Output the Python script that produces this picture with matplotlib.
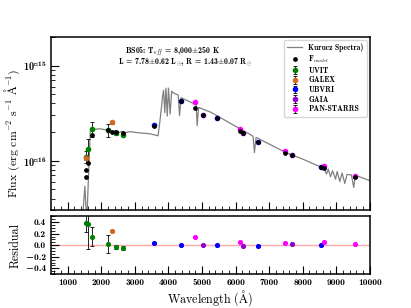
import numpy as np
import matplotlib.pyplot as plt
from matplotlib.ticker import MultipleLocator, FixedLocator

plt.rcParams['font.family'] = ['cmb10', 'DejaVu Serif']
plt.rcParams['mathtext.fontset'] = 'cm'
label_font = ['cmr10', 'DejaVu Serif']

# Kurucz model spectrum
spec_wave = [1420, 1510, 1565, 1670, 1717, 1800, 1963, 2100, 2250, 2350, 2400, 2458,
             2550, 2600, 2700, 2852, 3100, 3445, 3690, 3741, 3791, 3820, 3855, 3890,
             3925, 3965, 4000, 4050, 4095, 4135, 4236, 4290, 4330, 4375, 4778, 4825,
             4855, 4896, 5273, 5900, 6408, 6520, 6560, 6610, 7495, 8000, 8532, 8630,
             8709, 8758, 8828, 8887, 8976, 9024, 9104, 9173, 9252, 9321, 9450, 9519,
             9569, 10014]
spec_flux = [2.0e-17, 5.4e-17, 2.2e-17, 2.05e-16, 2.18e-16, 2.14e-16, 2.17e-16, 2.12e-16,
             2.10e-16, 2.02e-16, 2.08e-16, 2.05e-16, 1.98e-16, 2.04e-16, 1.97e-16, 2.02e-16,
             1.97e-16, 1.92e-16, 1.83e-16, 2.53e-16, 3.64e-16, 4.6e-16, 5.5e-16, 3.2e-16,
             5.8e-16, 2.95e-16, 5.8e-16, 3.1e-16, 5.4e-16, 5.2e-16, 5.0e-16, 4.9e-16,
             2.98e-16, 4.6e-16, 3.95e-16, 3.88e-16, 2.34e-16, 3.64e-16, 3.22e-16, 2.41e-16,
             1.91e-16, 1.81e-16, 1.22e-16, 1.76e-16, 1.22e-16, 1.04e-16, 8.6e-17, 8.37e-17,
             7.24e-17, 8.18e-17, 6.79e-17, 7.85e-17, 6.41e-17, 7.71e-17, 6.05e-17, 7.43e-17,
             5.77e-17, 7.2e-17, 7.08e-17, 5.24e-17, 7.03e-17, 6.15e-17]

# model fluxes at the filter wavelengths
model_wave = [1539, 1541, 1608, 1717, 2196, 2316, 2447, 2632, 3563, 4363, 4800,
              5035, 5450, 6132, 6209, 6674, 7474, 7691, 8532, 8630, 9569]
model_flux = [6.7e-17, 8.0e-17, 9.5e-17, 1.87e-16, 2.08e-16, 2.0e-16, 1.99e-16, 1.96e-16,
              2.30e-16, 4.28e-16, 3.6e-16, 3.0e-16, 2.79e-16, 2.05e-16, 1.98e-16, 1.58e-16,
              1.21e-16, 1.14e-16, 8.65e-17, 8.4e-17, 6.74e-17]

# observed photometry
uvit_wave = [1541, 1608, 1717, 2196, 2447, 2632]
uvit_flux = [1.10e-16, 1.33e-16, 2.16e-16, 2.12e-16, 1.94e-16, 1.88e-16]
uvit_ferr = [1.6e-17, 3.6e-17, 3.7e-17, 3.4e-17, 6e-18, 6e-18]
uvit_res = [0.38, 0.36, 0.15, 0.02, -0.03, -0.05]
uvit_rerr = [0.15, 0.42, 0.17, 0.16, 0.03, 0.03]

galex_wave = [1539, 2316]
galex_flux = [1.07e-16, 2.53e-16]
galex_ferr = [6e-18, 8e-18]
galex_res = [np.nan, 0.24]
galex_rerr = [np.nan, 0.02]

ubvri_wave = [3563, 4363, 5450, 6674, 8532]
ubvri_flux = [2.39e-16, 4.28e-16, 2.79e-16, 1.56e-16, 8.65e-17]
ubvri_ferr = [5e-18, 8e-18, 5e-18, 3e-18, 2e-18]
ubvri_res = [0.04, 0.0, 0.0, -0.01, 0.0]
ubvri_rerr = [0.02, 0.02, 0.02, 0.02, 0.02]

gaia_wave = [5035, 6209, 7691]
gaia_flux = [3.03e-16, 1.94e-16, 1.16e-16]
gaia_ferr = [4e-18, 3e-18, 2e-18]
gaia_res = [0.01, -0.02, 0.02]
gaia_rerr = [0.01, 0.01, 0.01]

ps_wave = [4800, 6132, 7474, 8630, 9569]
ps_flux = [4.18e-16, 2.16e-16, 1.27e-16, 8.86e-17, 6.84e-17]
ps_ferr = [6e-18, 4e-18, 2e-18, 2e-18, 2e-18]
ps_res = [0.14, 0.05, 0.045, 0.05, 0.015]
ps_rerr = [0.01, 0.01, 0.01, 0.01, 0.01]

res_ticks = [-0.4, -0.2, 0.0, 0.2, 0.4]

surveys = [
    ('UVIT', 'green', uvit_wave, uvit_flux, uvit_ferr, uvit_res, uvit_rerr),
    ('GALEX', 'chocolate', galex_wave, galex_flux, galex_ferr, galex_res, galex_rerr),
    ('UBVRI', 'blue', ubvri_wave, ubvri_flux, ubvri_ferr, ubvri_res, ubvri_rerr),
    ('GAIA', 'darkviolet', gaia_wave, gaia_flux, gaia_ferr, gaia_res, gaia_rerr),
    ('PAN-STARRS', 'magenta', ps_wave, ps_flux, ps_ferr, ps_res, ps_rerr),
]

fig = plt.figure(figsize=(4.11, 3.08), dpi=100)
gs = fig.add_gridspec(2, 1, height_ratios=[3, 1], hspace=0.05,
                      left=0.124, right=0.900, top=0.880, bottom=0.110)
ax = fig.add_subplot(gs[0])
axr = fig.add_subplot(gs[1], sharex=ax)

handles = []
h, = ax.plot(spec_wave, spec_flux, color='gray', lw=0.9, zorder=1, label='Kurucz Spectra)')
handles.append(h)
hm, = ax.plot(model_wave, model_flux, 'o', color='k', ms=2.4, zorder=5, label=r'F$_{model}$')
handles.append(hm)

for name, col, w, f, fe, r, re in surveys:
    h = ax.errorbar(w, f, yerr=fe, fmt='o', color=col, ms=3.0, ecolor='k',
                    elinewidth=0.6, capsize=1.3, capthick=0.6, zorder=3, label=name)
    handles.append(h)
    axr.errorbar(w, r, yerr=re, fmt='o', color=col, ms=2.7, ecolor='k',
                 elinewidth=0.6, capsize=1.3, capthick=0.6, zorder=3)

ax.set_yscale('log')
ax.set_xlim(500, 10000)
ax.set_ylim(3e-17, 2e-15)
ax.set_ylabel(r'Flux (erg cm$^{-2}$ s$^{-1}$ $\mathrm{\AA}^{-1}$)', fontsize=8.5,
              family=label_font)
ax.tick_params(labelbottom=False)

ax.text(0.232, 0.919, r'BS05: T$_{eff}$ = 8,000$\pm$250 K', transform=ax.transAxes,
        fontsize=5.7, va='center', ha='left')
ax.text(0.210, 0.855, r'L = 7.78$\pm$0.62 L$_{\odot}$, R = 1.43$\pm$0.07 R$_{\odot}$',
        transform=ax.transAxes, fontsize=5.7, va='center', ha='left')

ax.legend(handles=handles, loc='upper right', fontsize=5.5, handlelength=2.0,
          labelspacing=0.22, borderpad=0.4, borderaxespad=0.4, fancybox=True)

axr.axhline(0, color='red', alpha=0.35, lw=1, zorder=1)
axr.set_ylim(-0.5, 0.5)
axr.yaxis.set_major_locator(FixedLocator(res_ticks))
axr.yaxis.set_minor_locator(MultipleLocator(0.05))
axr.set_ylabel('Residual', fontsize=8.7, family=label_font)
axr.set_xlabel(r'Wavelength ($\mathrm{\AA}$)', fontsize=8.7, labelpad=1, family=label_font)

for a in (ax, axr):
    a.xaxis.set_major_locator(MultipleLocator(1000))
    a.xaxis.set_minor_locator(MultipleLocator(200))
    a.tick_params(which='both', direction='in', top=False, right=False, labelsize=6.8)
    a.tick_params(which='major', length=6, width=0.8)
    a.tick_params(which='minor', length=3, width=0.6)
    for s in a.spines.values():
        s.set_linewidth(1.1)
ax.tick_params(axis='y', labelsize=7.5)
ax.yaxis.set_label_coords(-0.092, 0.445)
axr.yaxis.set_label_coords(-0.092, 0.5)

fig.savefig('out.png', dpi=100)
